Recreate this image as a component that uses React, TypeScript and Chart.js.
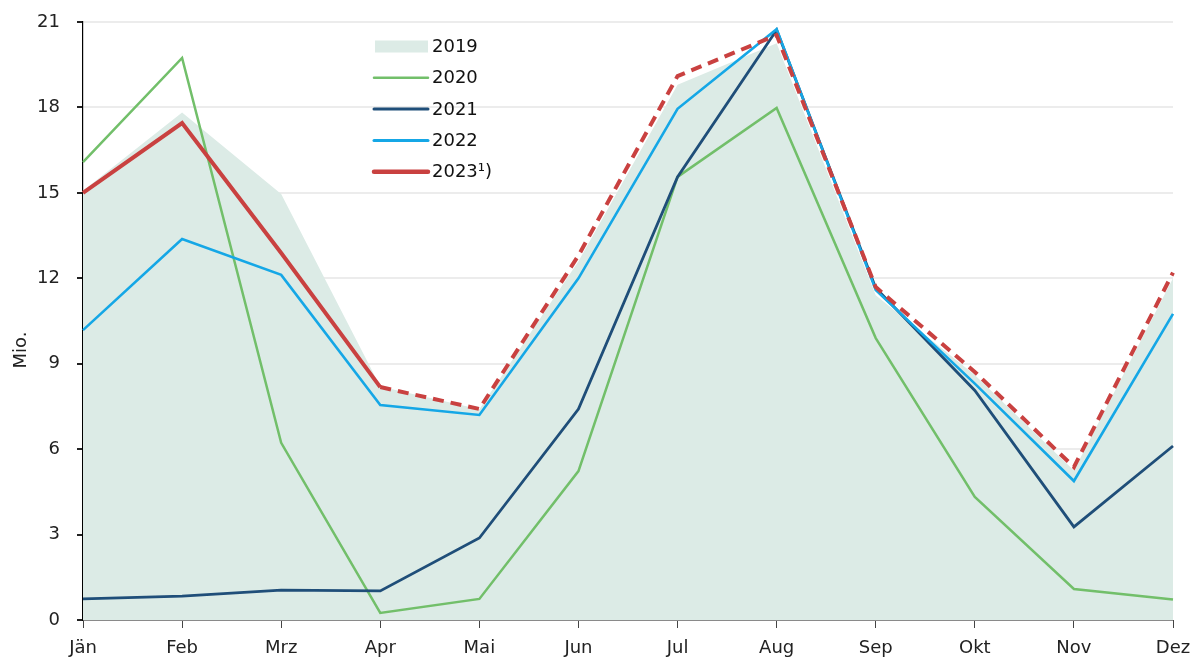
import React, { useEffect, useRef } from "react";
import { Chart, registerables } from "chart.js";

Chart.register(...registerables);

const months = ["Jän", "Feb", "Mrz", "Apr", "Mai", "Jun", "Jul", "Aug", "Sep", "Okt", "Nov", "Dez"];
const v2019 = [15.07, 17.82, 14.96, 8.2, 7.4, 12.6, 18.8, 20.25, 11.4, 8.6, 5.25, 12.0];
const v2020 = [16.08, 19.74, 6.22, 0.25, 0.74, 5.23, 15.56, 17.98, 9.9, 4.32, 1.09, 0.72];
const v2021 = [0.74, 0.84, 1.05, 1.02, 2.88, 7.41, 15.56, 20.72, 11.66, 8.06, 3.27, 6.11];
const v2022 = [10.18, 13.38, 12.12, 7.55, 7.2, 12.0, 17.95, 20.75, 11.59, 8.3, 4.88, 10.75];
const v2023 = [15.0, 17.45, 12.89, 8.18, 7.41, 12.8, 19.1, 20.54, 11.69, 8.71, 5.37, 12.2];
const yTicks = [0, 3, 6, 9, 12, 15, 18, 21];
const legendLabels = ["2019", "2020", "2021", "2022", "2023¹)"];

const C2019 = "#dcebe6";
const C2020 = "#72bf6a";
const C2021 = "#1f4e79";
const C2022 = "#15a7e6";
const C2023 = "#c94140";
const FONT = "'DejaVu Sans', sans-serif";

const overlayPlugin = {
  id: "overlay",
  afterDraw(chart: any) {
    const ctx = chart.ctx;
    ctx.save();
    // y-axis title
    ctx.fillStyle = "#222";
    ctx.font = `18px ${FONT}`;
    ctx.textAlign = "center";
    ctx.textBaseline = "middle";
    ctx.translate(21, 350);
    ctx.rotate(-Math.PI / 2);
    ctx.fillText("Mio.", 0, 0);
    ctx.restore();

    // legend
    ctx.save();
    const colors = [C2019, C2020, C2021, C2022, C2023];
    const widths = [0, 2.5, 3, 3, 4.5];
    const x0 = 374;
    const x1 = 428;
    const tx = 432;
    let y = 46.5;
    for (let i = 0; i < legendLabels.length; i++) {
      if (i === 0) {
        ctx.fillStyle = colors[i];
        ctx.fillRect(x0 + 1, y - 6, x1 - x0 - 1, 12);
      } else {
        ctx.strokeStyle = colors[i];
        ctx.lineWidth = widths[i];
        ctx.lineCap = "round";
        ctx.beginPath();
        ctx.moveTo(x0, y);
        ctx.lineTo(x1, y);
        ctx.stroke();
      }
      ctx.fillStyle = "#111";
      ctx.font = `18px ${FONT}`;
      ctx.textAlign = "left";
      ctx.textBaseline = "middle";
      ctx.fillText(legendLabels[i], tx, y + 1);
      y += 31.3;
    }
    ctx.restore();
  },
};

export default function App() {
  const ref = useRef<HTMLCanvasElement>(null);
  useEffect(() => {
    const canvas = ref.current;
    if (!canvas) return;
    const chart = new Chart(canvas, {
      type: "line",
      data: {
        labels: months,
        datasets: [
          {
            label: "2019",
            data: v2019,
            fill: "origin",
            backgroundColor: C2019,
            borderWidth: 0,
            borderColor: "rgba(0,0,0,0)",
            pointRadius: 0,
            tension: 0,
            order: 5,
          },
          {
            label: "2020",
            data: v2020,
            borderColor: C2020,
            borderWidth: 2.5,
            pointRadius: 0,
            fill: false,
            tension: 0,
            order: 4,
          },
          {
            label: "2021",
            data: v2021,
            borderColor: C2021,
            borderWidth: 2.8,
            pointRadius: 0,
            fill: false,
            tension: 0,
            order: 3,
          },
          {
            label: "2022",
            data: v2022,
            borderColor: C2022,
            borderWidth: 2.6,
            pointRadius: 0,
            fill: false,
            tension: 0,
            order: 2,
          },
          {
            label: "2023¹)",
            data: v2023,
            borderColor: C2023,
            borderWidth: 4,
            pointRadius: 0,
            fill: false,
            tension: 0,
            order: 1,
            segment: {
              borderDash: (c: any) => (c.p0DataIndex >= 3 ? [11, 7] : undefined),
            },
          } as any,
        ],
      },
      options: {
        responsive: false,
        animation: false,
        layout: { padding: { top: 22, right: 25, left: 0, bottom: 0 } },
        plugins: {
          legend: { display: false },
          tooltip: { enabled: false },
        },
        scales: {
          x: {
            offset: false,
            grid: {
              drawOnChartArea: false,
              drawTicks: true,
              tickLength: 8,
              tickColor: "#444",
            },
            border: { display: false },
            ticks: {
              color: "#222",
              font: { family: FONT, size: 18 },
              padding: 10,
              maxRotation: 0,
              autoSkip: false,
            },
            afterFit: (s: any) => {
              s.height = 39;
              s.paddingLeft = 0;
              s.paddingRight = 0;
            },
          },
          y: {
            min: 0,
            max: 21,
            afterBuildTicks: (s: any) => {
              s.ticks = yTicks.map((v) => ({ value: v }));
            },
            grid: {
              color: (c: any) => (c.tick && c.tick.value === 0 ? "#8a8a8a" : "#ececec"),
              lineWidth: 2,
              tickColor: "#222",
              tickLength: 6,
            },
            border: { display: true, color: "#000", width: 1.2 },
            ticks: {
              color: "#222",
              font: { family: FONT, size: 18 },
              padding: 17,
            },
            afterFit: (s: any) => {
              s.width = 83;
              s.paddingTop = 0;
              s.paddingBottom = 0;
            },
          },
        },
      },
      plugins: [overlayPlugin],
    });
    return () => chart.destroy();
  }, []);
  return (
    <div style={{ position: "absolute", left: 0, top: 0, width: 1198, height: 659, background: "#fff" }}>
      <canvas ref={ref} width={1198} height={659} style={{ display: "block" }} />
    </div>
  );
}
